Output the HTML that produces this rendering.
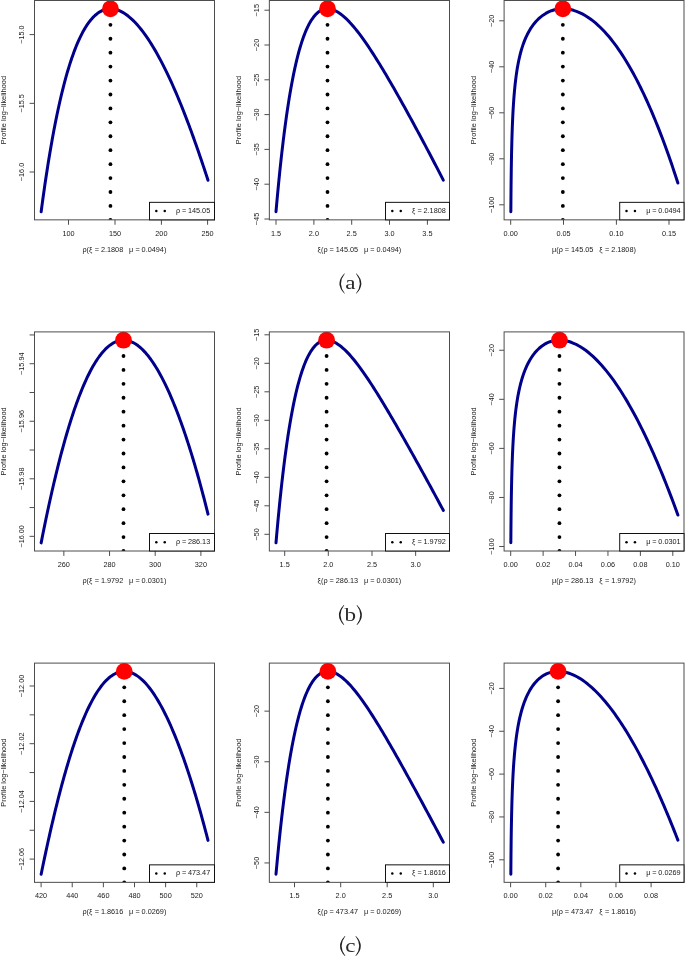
<!DOCTYPE html>
<html><head><meta charset="utf-8"><title>Profile log-likelihood</title>
<style>html,body{margin:0;padding:0;background:#fff}body{width:685px;height:957px;overflow:hidden;font-family:"Liberation Sans",sans-serif}svg{display:block;will-change:transform}</style>
</head><body>
<svg width="685" height="957" viewBox="0 0 685 957" font-family="Liberation Sans, sans-serif" font-size="7.3" fill="#1a1a1a">
<rect width="685" height="957" fill="#fff"/>
<defs>
<clipPath id="c1"><rect x="34.5" y="0.5" width="180" height="219.35"/></clipPath>
<clipPath id="c2"><rect x="269.35" y="0.5" width="180.15" height="219.35"/></clipPath>
<clipPath id="c3"><rect x="504.1" y="0.5" width="179.9" height="219.35"/></clipPath>
<clipPath id="c4"><rect x="34.5" y="331.9" width="180" height="219.1"/></clipPath>
<clipPath id="c5"><rect x="269.35" y="331.9" width="180.15" height="219.1"/></clipPath>
<clipPath id="c6"><rect x="504.1" y="331.9" width="179.9" height="219.1"/></clipPath>
<clipPath id="c7"><rect x="34.5" y="663.1" width="180" height="219.25"/></clipPath>
<clipPath id="c8"><rect x="269.35" y="663.1" width="180.15" height="219.25"/></clipPath>
<clipPath id="c9"><rect x="504.1" y="663.1" width="179.9" height="219.25"/></clipPath>
</defs>
<g>
<polyline points="41.15,211.72 41.55,208.68 41.96,205.63 42.38,202.59 42.79,199.55 43.22,196.50 43.64,193.46 44.08,190.42 44.51,187.38 44.96,184.34 45.40,181.30 45.86,178.26 46.32,175.23 46.78,172.19 47.25,169.16 47.73,166.12 48.21,163.09 48.70,160.06 49.20,157.02 49.70,153.99 50.21,150.96 50.73,147.94 51.25,144.91 51.79,141.89 52.33,138.86 52.88,135.84 53.44,132.82 54.00,129.80 54.58,126.78 55.17,123.77 55.76,120.76 56.37,117.74 56.99,114.74 57.62,111.73 58.26,108.73 58.92,105.72 59.59,102.73 60.27,99.73 60.96,96.74 61.67,93.75 62.40,90.77 63.14,87.79 63.90,84.81 64.68,81.84 65.48,78.87 66.30,75.91 67.14,72.96 68.01,70.01 68.90,67.07 69.81,64.14 70.76,61.22 71.73,58.30 72.74,55.40 73.78,52.51 74.87,49.64 75.99,46.78 77.16,43.94 78.38,41.12 79.65,38.32 80.99,35.56 82.39,32.83 83.87,30.13 85.43,27.49 87.09,24.90 88.85,22.39 90.74,19.97 92.76,17.66 94.95,15.50 97.30,13.53 99.85,11.81 102.58,10.41 105.48,9.40 108.50,8.85 111.56,8.78 114.61,9.18 117.57,9.99 120.41,11.15 123.13,12.58 125.71,14.24 128.18,16.07 130.54,18.04 132.79,20.12 134.96,22.30 137.04,24.56 139.05,26.88 140.99,29.26 142.87,31.69 144.70,34.16 146.47,36.67 148.20,39.21 149.88,41.78 151.53,44.37 153.13,46.99 154.70,49.63 156.24,52.29 157.74,54.97 159.22,57.66 160.67,60.37 162.09,63.09 163.49,65.82 164.87,68.57 166.23,71.33 167.56,74.09 168.87,76.87 170.17,79.65 171.45,82.45 172.71,85.25 173.95,88.06 175.18,90.87 176.39,93.70 177.59,96.52 178.77,99.36 179.94,102.20 181.10,105.04 182.25,107.89 183.38,110.75 184.50,113.61 185.62,116.47 186.72,119.34 187.81,122.21 188.89,125.08 189.96,127.96 191.03,130.84 192.08,133.73 193.13,136.62 194.16,139.51 195.19,142.40 196.22,145.30 197.23,148.20 198.24,151.10 199.24,154.00 200.24,156.91 201.23,159.82 202.21,162.73 203.19,165.64 204.16,168.55 205.13,171.47 206.09,174.38 207.05,177.30 208.00,180.22" fill="none" stroke="#00008b" stroke-width="3" stroke-linecap="round" stroke-linejoin="round"/>
<g clip-path="url(#c1)" fill="#000"><circle cx="110.45" cy="219.85" r="1.9"/><circle cx="110.45" cy="205.92" r="1.9"/><circle cx="110.45" cy="191.99" r="1.9"/><circle cx="110.45" cy="178.06" r="1.9"/><circle cx="110.45" cy="164.13" r="1.9"/><circle cx="110.45" cy="150.2" r="1.9"/><circle cx="110.45" cy="136.27" r="1.9"/><circle cx="110.45" cy="122.34" r="1.9"/><circle cx="110.45" cy="108.41" r="1.9"/><circle cx="110.45" cy="94.48" r="1.9"/><circle cx="110.45" cy="80.55" r="1.9"/><circle cx="110.45" cy="66.62" r="1.9"/><circle cx="110.45" cy="52.69" r="1.9"/><circle cx="110.45" cy="38.76" r="1.9"/><circle cx="110.45" cy="24.83" r="1.9"/></g>
<circle cx="110.45" cy="8.8" r="8.4" fill="#ff0000"/>
<rect x="34.5" y="0.5" width="180" height="219.35" fill="none" stroke="#4d4d4d" stroke-width="1"/>
<path d="M68.5 219.85v4.9M115 219.85v4.9M161.4 219.85v4.9M207.6 219.85v4.9M34.5 34.6h-4.9M34.5 103.35h-4.9M34.5 172h-4.9" stroke="#4d4d4d" stroke-width="1" fill="none"/>
<text x="68.5" y="235.95" text-anchor="middle">100</text>
<text x="115" y="235.95" text-anchor="middle">150</text>
<text x="161.4" y="235.95" text-anchor="middle">200</text>
<text x="207.6" y="235.95" text-anchor="middle">250</text>
<text transform="translate(24.3 34.6) rotate(-90)" text-anchor="middle">−15.0</text>
<text transform="translate(24.3 103.35) rotate(-90)" text-anchor="middle">−15.5</text>
<text transform="translate(24.3 172) rotate(-90)" text-anchor="middle">−16.0</text>
<text transform="translate(6 110.08) rotate(-90)" text-anchor="middle" font-size="7.42">Profile log−likelihood</text>
<text y="251.75"><tspan x="82.48">ρ</tspan><tspan x="86.48">(</tspan><tspan x="88.88">ξ</tspan><tspan x="94.68">=</tspan><tspan x="100.88">2.1808</tspan><tspan x="129">μ</tspan><tspan x="135.4">=</tspan><tspan x="141.6">0.0494</tspan><tspan x="163.92">)</tspan></text>
<rect x="149.5" y="202.35" width="65" height="17.5" fill="#fff" stroke="#111" stroke-width="1"/>
<circle cx="156.3" cy="211.1" r="1.25" fill="#000"/><circle cx="164.75" cy="211.1" r="1.25" fill="#000"/>
<text y="212.75"><tspan x="176">ρ</tspan><tspan x="181.9">=</tspan><tspan x="187.9">145.05</tspan></text>
</g>
<g>
<polyline points="276.00,211.71 276.27,208.65 276.54,205.59 276.81,202.53 277.09,199.47 277.37,196.41 277.65,193.35 277.94,190.30 278.23,187.24 278.53,184.18 278.83,181.12 279.13,178.07 279.44,175.01 279.75,171.95 280.07,168.90 280.39,165.84 280.72,162.79 281.05,159.73 281.39,156.68 281.73,153.63 282.08,150.57 282.44,147.52 282.80,144.47 283.16,141.42 283.54,138.37 283.92,135.32 284.30,132.28 284.70,129.23 285.10,126.18 285.51,123.14 285.93,120.10 286.35,117.05 286.79,114.01 287.23,110.97 287.69,107.93 288.15,104.90 288.63,101.86 289.12,98.83 289.61,95.80 290.12,92.77 290.65,89.74 291.19,86.72 291.74,83.69 292.31,80.68 292.90,77.66 293.50,74.65 294.12,71.64 294.76,68.64 295.43,65.64 296.12,62.64 296.83,59.65 297.57,56.67 298.35,53.70 299.15,50.73 299.99,47.78 300.88,44.84 301.80,41.91 302.78,39.00 303.81,36.10 304.91,33.23 306.08,30.39 307.34,27.59 308.69,24.83 310.16,22.14 311.77,19.52 313.55,17.02 315.54,14.67 317.76,12.56 320.27,10.78 323.05,9.49 326.04,8.83 329.11,8.84 332.11,9.46 334.98,10.56 337.69,12.00 340.25,13.70 342.68,15.57 345.00,17.59 347.23,19.70 349.37,21.90 351.45,24.17 353.46,26.49 355.42,28.85 357.34,31.25 359.21,33.69 361.05,36.15 362.86,38.63 364.64,41.14 366.39,43.66 368.12,46.20 369.82,48.76 371.51,51.32 373.18,53.90 374.83,56.49 376.47,59.09 378.10,61.70 379.71,64.31 381.31,66.94 382.90,69.57 384.48,72.20 386.05,74.84 387.61,77.49 389.16,80.14 390.70,82.79 392.24,85.45 393.77,88.12 395.30,90.78 396.82,93.46 398.33,96.13 399.84,98.81 401.34,101.49 402.83,104.17 404.33,106.85 405.82,109.54 407.30,112.23 408.78,114.92 410.25,117.62 411.73,120.31 413.20,123.01 414.66,125.71 416.12,128.42 417.58,131.12 419.03,133.83 420.49,136.53 421.93,139.24 423.38,141.95 424.82,144.67 426.26,147.38 427.70,150.10 429.13,152.81 430.56,155.53 431.99,158.25 433.41,160.97 434.83,163.70 436.25,166.42 437.67,169.15 439.08,171.88 440.49,174.61 441.90,177.34 443.30,180.07" fill="none" stroke="#00008b" stroke-width="3" stroke-linecap="round" stroke-linejoin="round"/>
<g clip-path="url(#c2)" fill="#000"><circle cx="327.5" cy="219.85" r="1.9"/><circle cx="327.5" cy="205.92" r="1.9"/><circle cx="327.5" cy="191.99" r="1.9"/><circle cx="327.5" cy="178.06" r="1.9"/><circle cx="327.5" cy="164.13" r="1.9"/><circle cx="327.5" cy="150.2" r="1.9"/><circle cx="327.5" cy="136.27" r="1.9"/><circle cx="327.5" cy="122.34" r="1.9"/><circle cx="327.5" cy="108.41" r="1.9"/><circle cx="327.5" cy="94.48" r="1.9"/><circle cx="327.5" cy="80.55" r="1.9"/><circle cx="327.5" cy="66.62" r="1.9"/><circle cx="327.5" cy="52.69" r="1.9"/><circle cx="327.5" cy="38.76" r="1.9"/><circle cx="327.5" cy="24.83" r="1.9"/></g>
<circle cx="327.5" cy="8.8" r="8.4" fill="#ff0000"/>
<rect x="269.35" y="0.5" width="180.15" height="219.35" fill="none" stroke="#4d4d4d" stroke-width="1"/>
<path d="M276 219.85v4.9M313.9 219.85v4.9M351.7 219.85v4.9M389.5 219.85v4.9M427.4 219.85v4.9M269.35 10.2h-4.9M269.35 45h-4.9M269.35 79.8h-4.9M269.35 114.6h-4.9M269.35 149.4h-4.9M269.35 184.2h-4.9M269.35 219h-4.9" stroke="#4d4d4d" stroke-width="1" fill="none"/>
<text x="276" y="235.95" text-anchor="middle">1.5</text>
<text x="313.9" y="235.95" text-anchor="middle">2.0</text>
<text x="351.7" y="235.95" text-anchor="middle">2.5</text>
<text x="389.5" y="235.95" text-anchor="middle">3.0</text>
<text x="427.4" y="235.95" text-anchor="middle">3.5</text>
<text transform="translate(259.15 10.2) rotate(-90)" text-anchor="middle">−15</text>
<text transform="translate(259.15 45) rotate(-90)" text-anchor="middle">−20</text>
<text transform="translate(259.15 79.8) rotate(-90)" text-anchor="middle">−25</text>
<text transform="translate(259.15 114.6) rotate(-90)" text-anchor="middle">−30</text>
<text transform="translate(259.15 149.4) rotate(-90)" text-anchor="middle">−35</text>
<text transform="translate(259.15 184.2) rotate(-90)" text-anchor="middle">−40</text>
<text transform="translate(259.15 219) rotate(-90)" text-anchor="middle">−45</text>
<text transform="translate(240.85 110.08) rotate(-90)" text-anchor="middle" font-size="7.42">Profile log−likelihood</text>
<text y="251.75"><tspan x="317.4">ξ</tspan><tspan x="321">(</tspan><tspan x="323.4">ρ</tspan><tspan x="329.6">=</tspan><tspan x="335.8">145.05</tspan><tspan x="363.92">μ</tspan><tspan x="370.32">=</tspan><tspan x="376.52">0.0494</tspan><tspan x="398.85">)</tspan></text>
<rect x="385.5" y="202.35" width="64" height="17.5" fill="#fff" stroke="#111" stroke-width="1"/>
<circle cx="392.3" cy="211.1" r="1.25" fill="#000"/><circle cx="400.75" cy="211.1" r="1.25" fill="#000"/>
<text y="212.75"><tspan x="412">ξ</tspan><tspan x="417.5">=</tspan><tspan x="423.5">2.1808</tspan></text>
</g>
<g>
<polyline points="510.85,211.71 510.87,208.52 510.89,205.33 510.92,202.14 510.94,198.95 510.97,195.76 511.00,192.56 511.03,189.37 511.06,186.18 511.10,182.99 511.14,179.80 511.18,176.61 511.22,173.42 511.26,170.22 511.31,167.03 511.37,163.84 511.42,160.65 511.48,157.46 511.54,154.27 511.61,151.08 511.69,147.88 511.77,144.69 511.85,141.50 511.94,138.31 512.04,135.12 512.14,131.93 512.25,128.74 512.37,125.55 512.50,122.36 512.64,119.18 512.79,115.99 512.95,112.80 513.13,109.61 513.32,106.43 513.52,103.24 513.74,100.06 513.98,96.87 514.24,93.69 514.52,90.51 514.82,87.34 515.15,84.16 515.51,80.99 515.90,77.82 516.32,74.66 516.78,71.50 517.29,68.35 517.84,65.20 518.44,62.07 519.09,58.95 519.81,55.84 520.60,52.74 521.46,49.67 522.40,46.62 523.43,43.60 524.56,40.61 525.80,37.67 527.15,34.78 528.62,31.95 530.23,29.19 531.98,26.52 533.88,23.96 535.93,21.51 538.15,19.22 540.52,17.08 543.05,15.14 545.74,13.42 548.56,11.93 551.51,10.72 554.56,9.78 557.69,9.14 560.86,8.81 564.05,8.77 567.23,9.02 570.38,9.55 573.48,10.32 576.51,11.32 579.46,12.53 582.33,13.92 585.12,15.47 587.83,17.16 590.45,18.98 593.00,20.90 595.47,22.93 597.86,25.04 600.18,27.22 602.44,29.48 604.64,31.80 606.77,34.17 608.85,36.59 610.88,39.06 612.86,41.56 614.79,44.10 616.67,46.68 618.51,49.29 620.31,51.92 622.08,54.58 623.80,57.27 625.49,59.97 627.15,62.70 628.78,65.45 630.37,68.21 631.94,70.99 633.48,73.79 635.00,76.60 636.48,79.42 637.95,82.26 639.39,85.11 640.81,87.97 642.20,90.84 643.58,93.72 644.94,96.60 646.27,99.50 647.59,102.41 648.89,105.32 650.17,108.25 651.44,111.18 652.69,114.11 653.92,117.06 655.14,120.01 656.35,122.96 657.54,125.93 658.71,128.89 659.88,131.87 661.03,134.84 662.16,137.83 663.29,140.81 664.40,143.80 665.50,146.80 666.59,149.80 667.67,152.80 668.74,155.81 669.79,158.82 670.84,161.84 671.88,164.86 672.90,167.88 673.92,170.91 674.93,173.93 675.93,176.97 676.92,180.00 677.90,183.04" fill="none" stroke="#00008b" stroke-width="3" stroke-linecap="round" stroke-linejoin="round"/>
<g clip-path="url(#c3)" fill="#000"><circle cx="562.85" cy="219.85" r="1.9"/><circle cx="562.85" cy="205.92" r="1.9"/><circle cx="562.85" cy="191.99" r="1.9"/><circle cx="562.85" cy="178.06" r="1.9"/><circle cx="562.85" cy="164.13" r="1.9"/><circle cx="562.85" cy="150.2" r="1.9"/><circle cx="562.85" cy="136.27" r="1.9"/><circle cx="562.85" cy="122.34" r="1.9"/><circle cx="562.85" cy="108.41" r="1.9"/><circle cx="562.85" cy="94.48" r="1.9"/><circle cx="562.85" cy="80.55" r="1.9"/><circle cx="562.85" cy="66.62" r="1.9"/><circle cx="562.85" cy="52.69" r="1.9"/><circle cx="562.85" cy="38.76" r="1.9"/><circle cx="562.85" cy="24.83" r="1.9"/></g>
<circle cx="562.85" cy="8.8" r="8.4" fill="#ff0000"/>
<rect x="504.1" y="0.5" width="179.9" height="219.35" fill="none" stroke="#4d4d4d" stroke-width="1"/>
<path d="M510.7 219.85v4.9M563.5 219.85v4.9M616.4 219.85v4.9M669 219.85v4.9M504.1 20.8h-4.9M504.1 66.8h-4.9M504.1 112.8h-4.9M504.1 158.8h-4.9M504.1 204.8h-4.9" stroke="#4d4d4d" stroke-width="1" fill="none"/>
<text x="510.7" y="235.95" text-anchor="middle">0.00</text>
<text x="563.5" y="235.95" text-anchor="middle">0.05</text>
<text x="616.4" y="235.95" text-anchor="middle">0.10</text>
<text x="669" y="235.95" text-anchor="middle">0.15</text>
<text transform="translate(493.9 20.8) rotate(-90)" text-anchor="middle">−20</text>
<text transform="translate(493.9 66.8) rotate(-90)" text-anchor="middle">−40</text>
<text transform="translate(493.9 112.8) rotate(-90)" text-anchor="middle">−60</text>
<text transform="translate(493.9 158.8) rotate(-90)" text-anchor="middle">−80</text>
<text transform="translate(493.9 204.8) rotate(-90)" text-anchor="middle">−100</text>
<text transform="translate(475.6 110.08) rotate(-90)" text-anchor="middle" font-size="7.42">Profile log−likelihood</text>
<text y="251.75"><tspan x="552.03">μ</tspan><tspan x="556.23">(</tspan><tspan x="558.63">ρ</tspan><tspan x="564.83">=</tspan><tspan x="571.03">145.05</tspan><tspan x="599.15">ξ</tspan><tspan x="604.95">=</tspan><tspan x="611.15">2.1808</tspan><tspan x="633.47">)</tspan></text>
<rect x="619.7" y="202.35" width="64.3" height="17.5" fill="#fff" stroke="#111" stroke-width="1"/>
<circle cx="626.5" cy="211.1" r="1.25" fill="#000"/><circle cx="634.95" cy="211.1" r="1.25" fill="#000"/>
<text y="212.75"><tspan x="646.2">μ</tspan><tspan x="652.3">=</tspan><tspan x="658.3">0.0494</tspan></text>
</g>
<g>
<polyline points="41.15,542.86 41.74,539.85 42.34,536.83 42.94,533.82 43.54,530.81 44.15,527.80 44.77,524.79 45.39,521.78 46.01,518.77 46.64,515.77 47.28,512.76 47.92,509.76 48.57,506.76 49.22,503.75 49.88,500.75 50.55,497.75 51.22,494.76 51.89,491.76 52.58,488.77 53.27,485.77 53.97,482.78 54.67,479.79 55.39,476.81 56.11,473.82 56.84,470.84 57.58,467.85 58.32,464.87 59.08,461.90 59.84,458.92 60.61,455.95 61.40,452.98 62.19,450.01 62.99,447.05 63.81,444.08 64.63,441.13 65.47,438.17 66.32,435.22 67.19,432.27 68.06,429.33 68.95,426.39 69.86,423.45 70.78,420.52 71.72,417.60 72.67,414.68 73.64,411.76 74.64,408.86 75.65,405.95 76.68,403.06 77.73,400.18 78.81,397.30 79.91,394.43 81.04,391.58 82.20,388.73 83.39,385.90 84.61,383.08 85.87,380.28 87.17,377.49 88.51,374.73 89.89,371.99 91.32,369.27 92.81,366.58 94.36,363.93 95.97,361.32 97.66,358.75 99.44,356.25 101.30,353.81 103.28,351.45 105.37,349.21 107.60,347.09 109.98,345.15 112.53,343.43 115.24,342.00 118.12,340.93 121.12,340.30 124.19,340.16 127.23,340.52 130.19,341.34 133.02,342.54 135.68,344.06 138.20,345.82 140.57,347.77 142.81,349.88 144.93,352.09 146.95,354.41 148.88,356.80 150.72,359.26 152.49,361.77 154.19,364.33 155.83,366.93 157.42,369.56 158.96,372.22 160.45,374.90 161.89,377.61 163.30,380.34 164.68,383.09 166.02,385.85 167.32,388.63 168.60,391.42 169.85,394.23 171.08,397.05 172.28,399.87 173.46,402.71 174.62,405.56 175.75,408.41 176.87,411.27 177.97,414.14 179.05,417.02 180.11,419.90 181.15,422.79 182.19,425.68 183.20,428.58 184.20,431.48 185.19,434.39 186.17,437.30 187.13,440.22 188.08,443.14 189.01,446.07 189.94,449.00 190.85,451.93 191.76,454.86 192.65,457.80 193.54,460.74 194.41,463.69 195.27,466.64 196.13,469.59 196.98,472.54 197.81,475.50 198.64,478.45 199.46,481.41 200.28,484.38 201.08,487.34 201.88,490.31 202.67,493.28 203.45,496.25 204.23,499.22 204.99,502.19 205.75,505.17 206.51,508.15 207.26,511.12 208.00,514.11" fill="none" stroke="#00008b" stroke-width="3" stroke-linecap="round" stroke-linejoin="round"/>
<g clip-path="url(#c4)" fill="#000"><circle cx="123.5" cy="551" r="1.9"/><circle cx="123.5" cy="537.07" r="1.9"/><circle cx="123.5" cy="523.14" r="1.9"/><circle cx="123.5" cy="509.21" r="1.9"/><circle cx="123.5" cy="495.28" r="1.9"/><circle cx="123.5" cy="481.35" r="1.9"/><circle cx="123.5" cy="467.42" r="1.9"/><circle cx="123.5" cy="453.49" r="1.9"/><circle cx="123.5" cy="439.56" r="1.9"/><circle cx="123.5" cy="425.63" r="1.9"/><circle cx="123.5" cy="411.7" r="1.9"/><circle cx="123.5" cy="397.77" r="1.9"/><circle cx="123.5" cy="383.84" r="1.9"/><circle cx="123.5" cy="369.91" r="1.9"/><circle cx="123.5" cy="355.98" r="1.9"/></g>
<circle cx="123.5" cy="340.2" r="8.4" fill="#ff0000"/>
<rect x="34.5" y="331.9" width="180" height="219.1" fill="none" stroke="#4d4d4d" stroke-width="1"/>
<path d="M63.85 551v4.9M109.55 551v4.9M155.2 551v4.9M200.9 551v4.9M34.5 334.95h-4.9M34.5 363.72h-4.9M34.5 392.49h-4.9M34.5 421.26h-4.9M34.5 450.03h-4.9M34.5 478.8h-4.9M34.5 507.57h-4.9M34.5 536.34h-4.9" stroke="#4d4d4d" stroke-width="1" fill="none"/>
<text x="63.85" y="566.85" text-anchor="middle">260</text>
<text x="109.55" y="566.85" text-anchor="middle">280</text>
<text x="155.2" y="566.85" text-anchor="middle">300</text>
<text x="200.9" y="566.85" text-anchor="middle">320</text>
<text transform="translate(24.3 363.72) rotate(-90)" text-anchor="middle">−15.94</text>
<text transform="translate(24.3 421.26) rotate(-90)" text-anchor="middle">−15.96</text>
<text transform="translate(24.3 478.8) rotate(-90)" text-anchor="middle">−15.98</text>
<text transform="translate(24.3 536.34) rotate(-90)" text-anchor="middle">−16.00</text>
<text transform="translate(6 441.35) rotate(-90)" text-anchor="middle" font-size="7.42">Profile log−likelihood</text>
<text y="582.85"><tspan x="82.48">ρ</tspan><tspan x="86.48">(</tspan><tspan x="88.88">ξ</tspan><tspan x="94.68">=</tspan><tspan x="100.88">1.9792</tspan><tspan x="129">μ</tspan><tspan x="135.4">=</tspan><tspan x="141.6">0.0301</tspan><tspan x="163.92">)</tspan></text>
<rect x="149.5" y="533.5" width="65" height="17.5" fill="#fff" stroke="#111" stroke-width="1"/>
<circle cx="156.3" cy="542.25" r="1.25" fill="#000"/><circle cx="164.75" cy="542.25" r="1.25" fill="#000"/>
<text y="543.9"><tspan x="176">ρ</tspan><tspan x="181.9">=</tspan><tspan x="187.9">286.13</tspan></text>
</g>
<g>
<polyline points="276.00,542.84 276.26,539.79 276.53,536.74 276.80,533.69 277.07,530.64 277.34,527.59 277.62,524.54 277.90,521.49 278.19,518.44 278.48,515.39 278.78,512.34 279.07,509.29 279.38,506.24 279.68,503.20 280.00,500.15 280.31,497.10 280.63,494.06 280.96,491.01 281.29,487.97 281.63,484.92 281.97,481.88 282.32,478.84 282.67,475.79 283.03,472.75 283.40,469.71 283.77,466.67 284.15,463.63 284.53,460.59 284.93,457.56 285.33,454.52 285.74,451.48 286.16,448.45 286.58,445.42 287.02,442.38 287.46,439.35 287.92,436.33 288.38,433.30 288.86,430.27 289.35,427.25 289.85,424.23 290.36,421.21 290.89,418.19 291.43,415.18 291.99,412.16 292.56,409.16 293.15,406.15 293.76,403.15 294.39,400.15 295.04,397.16 295.71,394.17 296.41,391.19 297.14,388.21 297.89,385.24 298.68,382.28 299.50,379.33 300.37,376.39 301.27,373.47 302.23,370.56 303.24,367.67 304.31,364.80 305.46,361.96 306.68,359.15 308.01,356.39 309.45,353.69 311.03,351.06 312.77,348.55 314.72,346.18 316.91,344.04 319.38,342.24 322.14,340.92 325.11,340.23 328.17,340.24 331.16,340.87 334.02,341.97 336.71,343.43 339.25,345.14 341.67,347.02 343.97,349.04 346.18,351.16 348.31,353.36 350.37,355.63 352.37,357.95 354.32,360.31 356.22,362.71 358.09,365.14 359.92,367.59 361.72,370.07 363.49,372.57 365.24,375.08 366.96,377.61 368.67,380.16 370.36,382.72 372.03,385.28 373.68,387.86 375.32,390.45 376.95,393.04 378.57,395.64 380.17,398.25 381.77,400.86 383.36,403.48 384.94,406.11 386.51,408.74 388.07,411.37 389.63,414.01 391.18,416.65 392.73,419.29 394.27,421.94 395.80,424.59 397.33,427.24 398.86,429.90 400.38,432.56 401.90,435.22 403.41,437.88 404.92,440.55 406.43,443.21 407.93,445.88 409.43,448.55 410.93,451.22 412.43,453.89 413.92,456.57 415.41,459.24 416.90,461.92 418.38,464.60 419.87,467.28 421.35,469.96 422.83,472.64 424.30,475.33 425.78,478.01 427.25,480.70 428.72,483.38 430.19,486.07 431.65,488.76 433.12,491.45 434.58,494.14 436.04,496.84 437.49,499.53 438.95,502.23 440.40,504.92 441.85,507.62 443.30,510.32" fill="none" stroke="#00008b" stroke-width="3" stroke-linecap="round" stroke-linejoin="round"/>
<g clip-path="url(#c5)" fill="#000"><circle cx="326.6" cy="551" r="1.9"/><circle cx="326.6" cy="537.07" r="1.9"/><circle cx="326.6" cy="523.14" r="1.9"/><circle cx="326.6" cy="509.21" r="1.9"/><circle cx="326.6" cy="495.28" r="1.9"/><circle cx="326.6" cy="481.35" r="1.9"/><circle cx="326.6" cy="467.42" r="1.9"/><circle cx="326.6" cy="453.49" r="1.9"/><circle cx="326.6" cy="439.56" r="1.9"/><circle cx="326.6" cy="425.63" r="1.9"/><circle cx="326.6" cy="411.7" r="1.9"/><circle cx="326.6" cy="397.77" r="1.9"/><circle cx="326.6" cy="383.84" r="1.9"/><circle cx="326.6" cy="369.91" r="1.9"/><circle cx="326.6" cy="355.98" r="1.9"/></g>
<circle cx="326.6" cy="340.2" r="8.4" fill="#ff0000"/>
<rect x="269.35" y="331.9" width="180.15" height="219.1" fill="none" stroke="#4d4d4d" stroke-width="1"/>
<path d="M284.7 551v4.9M328.3 551v4.9M372 551v4.9M415.65 551v4.9M269.35 334.8h-4.9M269.35 363.3h-4.9M269.35 391.8h-4.9M269.35 420.3h-4.9M269.35 448.8h-4.9M269.35 477.3h-4.9M269.35 505.8h-4.9M269.35 534.3h-4.9" stroke="#4d4d4d" stroke-width="1" fill="none"/>
<text x="284.7" y="566.85" text-anchor="middle">1.5</text>
<text x="328.3" y="566.85" text-anchor="middle">2.0</text>
<text x="372" y="566.85" text-anchor="middle">2.5</text>
<text x="415.65" y="566.85" text-anchor="middle">3.0</text>
<text transform="translate(259.15 334.8) rotate(-90)" text-anchor="middle">−15</text>
<text transform="translate(259.15 363.3) rotate(-90)" text-anchor="middle">−20</text>
<text transform="translate(259.15 391.8) rotate(-90)" text-anchor="middle">−25</text>
<text transform="translate(259.15 420.3) rotate(-90)" text-anchor="middle">−30</text>
<text transform="translate(259.15 448.8) rotate(-90)" text-anchor="middle">−35</text>
<text transform="translate(259.15 477.3) rotate(-90)" text-anchor="middle">−40</text>
<text transform="translate(259.15 505.8) rotate(-90)" text-anchor="middle">−45</text>
<text transform="translate(259.15 534.3) rotate(-90)" text-anchor="middle">−50</text>
<text transform="translate(240.85 441.35) rotate(-90)" text-anchor="middle" font-size="7.42">Profile log−likelihood</text>
<text y="582.85"><tspan x="317.4">ξ</tspan><tspan x="321">(</tspan><tspan x="323.4">ρ</tspan><tspan x="329.6">=</tspan><tspan x="335.8">286.13</tspan><tspan x="363.92">μ</tspan><tspan x="370.32">=</tspan><tspan x="376.52">0.0301</tspan><tspan x="398.85">)</tspan></text>
<rect x="385.5" y="533.5" width="64" height="17.5" fill="#fff" stroke="#111" stroke-width="1"/>
<circle cx="392.3" cy="542.25" r="1.25" fill="#000"/><circle cx="400.75" cy="542.25" r="1.25" fill="#000"/>
<text y="543.9"><tspan x="412">ξ</tspan><tspan x="417.5">=</tspan><tspan x="423.5">1.9792</tspan></text>
</g>
<g>
<polyline points="510.84,542.84 510.86,539.66 510.88,536.48 510.91,533.30 510.93,530.12 510.96,526.94 510.99,523.76 511.02,520.58 511.06,517.40 511.09,514.22 511.13,511.04 511.17,507.86 511.21,504.68 511.26,501.50 511.31,498.32 511.36,495.14 511.42,491.96 511.48,488.78 511.54,485.60 511.61,482.42 511.69,479.24 511.77,476.06 511.85,472.88 511.94,469.71 512.04,466.53 512.15,463.35 512.26,460.17 512.38,456.99 512.51,453.81 512.66,450.64 512.81,447.46 512.97,444.28 513.15,441.11 513.34,437.93 513.54,434.76 513.76,431.59 514.00,428.42 514.26,425.25 514.54,422.08 514.84,418.91 515.16,415.75 515.52,412.59 515.90,409.43 516.32,406.28 516.77,403.13 517.26,399.99 517.79,396.85 518.37,393.73 519.00,390.61 519.69,387.50 520.44,384.41 521.25,381.34 522.14,378.29 523.11,375.26 524.17,372.26 525.32,369.30 526.58,366.38 527.96,363.51 529.46,360.70 531.10,357.98 532.88,355.35 534.82,352.83 536.93,350.45 539.21,348.23 541.67,346.22 544.30,344.44 547.10,342.93 550.04,341.72 553.10,340.85 556.23,340.33 559.41,340.15 562.58,340.31 565.73,340.78 568.82,341.54 571.83,342.54 574.77,343.77 577.62,345.18 580.38,346.75 583.06,348.47 585.65,350.31 588.17,352.25 590.61,354.29 592.98,356.40 595.29,358.59 597.53,360.85 599.72,363.16 601.85,365.52 603.93,367.92 605.97,370.37 607.95,372.85 609.90,375.37 611.80,377.91 613.67,380.49 615.50,383.09 617.29,385.72 619.05,388.36 620.78,391.03 622.49,393.72 624.16,396.42 625.81,399.14 627.43,401.88 629.02,404.63 630.59,407.39 632.15,410.17 633.67,412.96 635.18,415.76 636.67,418.57 638.14,421.39 639.59,424.22 641.02,427.06 642.43,429.91 643.83,432.77 645.21,435.63 646.58,438.50 647.93,441.38 649.27,444.27 650.59,447.16 651.90,450.06 653.19,452.96 654.48,455.87 655.75,458.79 657.01,461.71 658.25,464.64 659.49,467.57 660.71,470.50 661.92,473.44 663.13,476.39 664.32,479.34 665.50,482.29 666.67,485.24 667.83,488.20 668.99,491.17 670.13,494.14 671.27,497.11 672.39,500.08 673.51,503.06 674.62,506.04 675.72,509.02 676.81,512.01 677.90,515.00" fill="none" stroke="#00008b" stroke-width="3" stroke-linecap="round" stroke-linejoin="round"/>
<g clip-path="url(#c6)" fill="#000"><circle cx="559.45" cy="551" r="1.9"/><circle cx="559.45" cy="537.07" r="1.9"/><circle cx="559.45" cy="523.14" r="1.9"/><circle cx="559.45" cy="509.21" r="1.9"/><circle cx="559.45" cy="495.28" r="1.9"/><circle cx="559.45" cy="481.35" r="1.9"/><circle cx="559.45" cy="467.42" r="1.9"/><circle cx="559.45" cy="453.49" r="1.9"/><circle cx="559.45" cy="439.56" r="1.9"/><circle cx="559.45" cy="425.63" r="1.9"/><circle cx="559.45" cy="411.7" r="1.9"/><circle cx="559.45" cy="397.77" r="1.9"/><circle cx="559.45" cy="383.84" r="1.9"/><circle cx="559.45" cy="369.91" r="1.9"/><circle cx="559.45" cy="355.98" r="1.9"/></g>
<circle cx="559.45" cy="340.2" r="8.4" fill="#ff0000"/>
<rect x="504.1" y="331.9" width="179.9" height="219.1" fill="none" stroke="#4d4d4d" stroke-width="1"/>
<path d="M510.7 551v4.9M543.12 551v4.9M575.54 551v4.9M607.96 551v4.9M640.38 551v4.9M672.8 551v4.9M504.1 350.25h-4.9M504.1 399.32h-4.9M504.1 448.39h-4.9M504.1 497.46h-4.9M504.1 546.53h-4.9" stroke="#4d4d4d" stroke-width="1" fill="none"/>
<text x="510.7" y="566.85" text-anchor="middle">0.00</text>
<text x="543.12" y="566.85" text-anchor="middle">0.02</text>
<text x="575.54" y="566.85" text-anchor="middle">0.04</text>
<text x="607.96" y="566.85" text-anchor="middle">0.06</text>
<text x="640.38" y="566.85" text-anchor="middle">0.08</text>
<text x="672.8" y="566.85" text-anchor="middle">0.10</text>
<text transform="translate(493.9 350.25) rotate(-90)" text-anchor="middle">−20</text>
<text transform="translate(493.9 399.32) rotate(-90)" text-anchor="middle">−40</text>
<text transform="translate(493.9 448.39) rotate(-90)" text-anchor="middle">−60</text>
<text transform="translate(493.9 497.46) rotate(-90)" text-anchor="middle">−80</text>
<text transform="translate(493.9 546.53) rotate(-90)" text-anchor="middle">−100</text>
<text transform="translate(475.6 441.35) rotate(-90)" text-anchor="middle" font-size="7.42">Profile log−likelihood</text>
<text y="582.85"><tspan x="552.03">μ</tspan><tspan x="556.23">(</tspan><tspan x="558.63">ρ</tspan><tspan x="564.83">=</tspan><tspan x="571.03">286.13</tspan><tspan x="599.15">ξ</tspan><tspan x="604.95">=</tspan><tspan x="611.15">1.9792</tspan><tspan x="633.47">)</tspan></text>
<rect x="619.7" y="533.5" width="64.3" height="17.5" fill="#fff" stroke="#111" stroke-width="1"/>
<circle cx="626.5" cy="542.25" r="1.25" fill="#000"/><circle cx="634.95" cy="542.25" r="1.25" fill="#000"/>
<text y="543.9"><tspan x="646.2">μ</tspan><tspan x="652.3">=</tspan><tspan x="658.3">0.0301</tspan></text>
</g>
<g>
<polyline points="41.15,874.21 41.76,871.24 42.37,868.26 42.99,865.29 43.61,862.31 44.23,859.34 44.86,856.37 45.50,853.40 46.14,850.43 46.78,847.46 47.43,844.49 48.08,841.53 48.74,838.56 49.41,835.60 50.07,832.63 50.75,829.67 51.43,826.71 52.12,823.75 52.81,820.79 53.51,817.84 54.22,814.88 54.93,811.93 55.65,808.98 56.38,806.03 57.11,803.08 57.85,800.14 58.60,797.19 59.36,794.25 60.12,791.31 60.90,788.37 61.68,785.44 62.48,782.51 63.28,779.58 64.09,776.65 64.92,773.73 65.75,770.81 66.60,767.89 67.46,764.98 68.33,762.07 69.21,759.16 70.11,756.26 71.02,753.36 71.95,750.47 72.89,747.58 73.85,744.70 74.83,741.82 75.82,738.95 76.84,736.09 77.87,733.23 78.93,730.38 80.01,727.54 81.11,724.71 82.24,721.89 83.40,719.09 84.59,716.29 85.81,713.51 87.07,710.74 88.36,708.00 89.70,705.27 91.08,702.56 92.51,699.88 93.99,697.23 95.53,694.61 97.14,692.04 98.83,689.51 100.59,687.04 102.45,684.64 104.42,682.32 106.50,680.11 108.72,678.04 111.09,676.14 113.62,674.46 116.32,673.07 119.18,672.05 122.16,671.47 125.19,671.38 128.20,671.77 131.12,672.62 133.90,673.83 136.52,675.36 139.00,677.11 141.34,679.05 143.55,681.14 145.64,683.34 147.63,685.63 149.54,688.00 151.36,690.43 153.11,692.91 154.80,695.44 156.42,698.00 158.00,700.60 159.52,703.23 161.00,705.88 162.44,708.56 163.84,711.25 165.21,713.96 166.54,716.69 167.84,719.44 169.12,722.19 170.37,724.96 171.59,727.74 172.79,730.54 173.97,733.34 175.12,736.15 176.26,738.96 177.38,741.79 178.48,744.62 179.56,747.46 180.62,750.30 181.67,753.15 182.71,756.01 183.73,758.87 184.73,761.74 185.72,764.61 186.70,767.48 187.67,770.36 188.63,773.25 189.57,776.14 190.50,779.03 191.42,781.92 192.33,784.82 193.23,787.72 194.13,790.62 195.01,793.53 195.88,796.44 196.74,799.35 197.60,802.27 198.44,805.19 199.28,808.11 200.11,811.03 200.93,813.95 201.75,816.88 202.55,819.81 203.35,822.74 204.14,825.67 204.93,828.61 205.71,831.54 206.48,834.48 207.24,837.42 208.00,840.36" fill="none" stroke="#00008b" stroke-width="3" stroke-linecap="round" stroke-linejoin="round"/>
<g clip-path="url(#c7)" fill="#000"><circle cx="124.25" cy="882.35" r="1.9"/><circle cx="124.25" cy="868.42" r="1.9"/><circle cx="124.25" cy="854.49" r="1.9"/><circle cx="124.25" cy="840.56" r="1.9"/><circle cx="124.25" cy="826.63" r="1.9"/><circle cx="124.25" cy="812.7" r="1.9"/><circle cx="124.25" cy="798.77" r="1.9"/><circle cx="124.25" cy="784.84" r="1.9"/><circle cx="124.25" cy="770.91" r="1.9"/><circle cx="124.25" cy="756.98" r="1.9"/><circle cx="124.25" cy="743.05" r="1.9"/><circle cx="124.25" cy="729.12" r="1.9"/><circle cx="124.25" cy="715.19" r="1.9"/><circle cx="124.25" cy="701.26" r="1.9"/><circle cx="124.25" cy="687.33" r="1.9"/></g>
<circle cx="124.25" cy="671.4" r="8.4" fill="#ff0000"/>
<rect x="34.5" y="663.1" width="180" height="219.25" fill="none" stroke="#4d4d4d" stroke-width="1"/>
<path d="M41.1 882.35v4.9M72.23 882.35v4.9M103.36 882.35v4.9M134.49 882.35v4.9M165.62 882.35v4.9M196.75 882.35v4.9M34.5 686h-4.9M34.5 714.85h-4.9M34.5 743.7h-4.9M34.5 772.55h-4.9M34.5 801.4h-4.9M34.5 830.25h-4.9M34.5 859.1h-4.9" stroke="#4d4d4d" stroke-width="1" fill="none"/>
<text x="41.1" y="897.55" text-anchor="middle">420</text>
<text x="72.23" y="897.55" text-anchor="middle">440</text>
<text x="103.36" y="897.55" text-anchor="middle">460</text>
<text x="134.49" y="897.55" text-anchor="middle">480</text>
<text x="165.62" y="897.55" text-anchor="middle">500</text>
<text x="196.75" y="897.55" text-anchor="middle">520</text>
<text transform="translate(24.3 686) rotate(-90)" text-anchor="middle">−12.00</text>
<text transform="translate(24.3 743.7) rotate(-90)" text-anchor="middle">−12.02</text>
<text transform="translate(24.3 801.4) rotate(-90)" text-anchor="middle">−12.04</text>
<text transform="translate(24.3 859.1) rotate(-90)" text-anchor="middle">−12.06</text>
<text transform="translate(6 772.62) rotate(-90)" text-anchor="middle" font-size="7.42">Profile log−likelihood</text>
<text y="913.55"><tspan x="82.48">ρ</tspan><tspan x="86.48">(</tspan><tspan x="88.88">ξ</tspan><tspan x="94.68">=</tspan><tspan x="100.88">1.8616</tspan><tspan x="129">μ</tspan><tspan x="135.4">=</tspan><tspan x="141.6">0.0269</tspan><tspan x="163.92">)</tspan></text>
<rect x="149.5" y="864.85" width="65" height="17.5" fill="#fff" stroke="#111" stroke-width="1"/>
<circle cx="156.3" cy="873.6" r="1.25" fill="#000"/><circle cx="164.75" cy="873.6" r="1.25" fill="#000"/>
<text y="875.25"><tspan x="176">ρ</tspan><tspan x="181.9">=</tspan><tspan x="187.9">473.47</tspan></text>
</g>
<g>
<polyline points="276.00,874.20 276.27,871.15 276.55,868.09 276.83,865.04 277.11,861.99 277.40,858.94 277.69,855.88 277.99,852.83 278.28,849.78 278.59,846.73 278.89,843.68 279.21,840.63 279.52,837.58 279.84,834.53 280.16,831.48 280.49,828.43 280.83,825.39 281.17,822.34 281.51,819.29 281.86,816.25 282.22,813.20 282.58,810.16 282.95,807.11 283.32,804.07 283.70,801.03 284.09,797.99 284.48,794.95 284.88,791.91 285.29,788.87 285.70,785.83 286.13,782.79 286.56,779.76 287.00,776.72 287.45,773.69 287.91,770.66 288.39,767.63 288.87,764.60 289.36,761.58 289.86,758.55 290.38,755.53 290.91,752.51 291.46,749.49 292.01,746.48 292.59,743.47 293.18,740.46 293.79,737.46 294.42,734.45 295.06,731.46 295.73,728.47 296.42,725.48 297.14,722.50 297.89,719.52 298.66,716.56 299.47,713.60 300.31,710.65 301.20,707.72 302.12,704.79 303.10,701.89 304.13,699.00 305.22,696.14 306.39,693.30 307.63,690.50 308.98,687.74 310.43,685.05 312.02,682.43 313.78,679.91 315.73,677.55 317.92,675.40 320.38,673.58 323.12,672.22 326.09,671.47 329.15,671.40 332.15,671.97 335.03,673.03 337.74,674.45 340.30,676.13 342.73,678.00 345.05,680.01 347.26,682.13 349.39,684.34 351.45,686.61 353.45,688.93 355.40,691.30 357.30,693.71 359.15,696.15 360.98,698.61 362.76,701.10 364.52,703.61 366.26,706.14 367.97,708.68 369.66,711.24 371.33,713.81 372.98,716.40 374.62,718.99 376.24,721.59 377.85,724.20 379.45,726.82 381.03,729.44 382.61,732.07 384.18,734.71 385.73,737.35 387.28,739.99 388.83,742.64 390.36,745.30 391.89,747.95 393.41,750.61 394.93,753.28 396.44,755.95 397.95,758.61 399.45,761.29 400.95,763.96 402.44,766.64 403.94,769.32 405.42,772.00 406.91,774.68 408.39,777.36 409.87,780.05 411.34,782.74 412.82,785.43 414.29,788.12 415.76,790.81 417.22,793.50 418.69,796.19 420.15,798.89 421.61,801.58 423.07,804.28 424.53,806.98 425.98,809.68 427.43,812.38 428.88,815.08 430.33,817.78 431.78,820.48 433.23,823.19 434.67,825.89 436.11,828.60 437.55,831.30 438.99,834.01 440.43,836.72 441.87,839.43 443.30,842.14" fill="none" stroke="#00008b" stroke-width="3" stroke-linecap="round" stroke-linejoin="round"/>
<g clip-path="url(#c8)" fill="#000"><circle cx="327.9" cy="882.35" r="1.9"/><circle cx="327.9" cy="868.42" r="1.9"/><circle cx="327.9" cy="854.49" r="1.9"/><circle cx="327.9" cy="840.56" r="1.9"/><circle cx="327.9" cy="826.63" r="1.9"/><circle cx="327.9" cy="812.7" r="1.9"/><circle cx="327.9" cy="798.77" r="1.9"/><circle cx="327.9" cy="784.84" r="1.9"/><circle cx="327.9" cy="770.91" r="1.9"/><circle cx="327.9" cy="756.98" r="1.9"/><circle cx="327.9" cy="743.05" r="1.9"/><circle cx="327.9" cy="729.12" r="1.9"/><circle cx="327.9" cy="715.19" r="1.9"/><circle cx="327.9" cy="701.26" r="1.9"/><circle cx="327.9" cy="687.33" r="1.9"/></g>
<circle cx="327.9" cy="671.4" r="8.4" fill="#ff0000"/>
<rect x="269.35" y="663.1" width="180.15" height="219.25" fill="none" stroke="#4d4d4d" stroke-width="1"/>
<path d="M294.5 882.35v4.9M340.7 882.35v4.9M387.2 882.35v4.9M433.3 882.35v4.9M269.35 711.15h-4.9M269.35 761.75h-4.9M269.35 812.35h-4.9M269.35 862.95h-4.9" stroke="#4d4d4d" stroke-width="1" fill="none"/>
<text x="294.5" y="897.55" text-anchor="middle">1.5</text>
<text x="340.7" y="897.55" text-anchor="middle">2.0</text>
<text x="387.2" y="897.55" text-anchor="middle">2.5</text>
<text x="433.3" y="897.55" text-anchor="middle">3.0</text>
<text transform="translate(259.15 711.15) rotate(-90)" text-anchor="middle">−20</text>
<text transform="translate(259.15 761.75) rotate(-90)" text-anchor="middle">−30</text>
<text transform="translate(259.15 812.35) rotate(-90)" text-anchor="middle">−40</text>
<text transform="translate(259.15 862.95) rotate(-90)" text-anchor="middle">−50</text>
<text transform="translate(240.85 772.62) rotate(-90)" text-anchor="middle" font-size="7.42">Profile log−likelihood</text>
<text y="913.55"><tspan x="317.4">ξ</tspan><tspan x="321">(</tspan><tspan x="323.4">ρ</tspan><tspan x="329.6">=</tspan><tspan x="335.8">473.47</tspan><tspan x="363.92">μ</tspan><tspan x="370.32">=</tspan><tspan x="376.52">0.0269</tspan><tspan x="398.85">)</tspan></text>
<rect x="385.5" y="864.85" width="64" height="17.5" fill="#fff" stroke="#111" stroke-width="1"/>
<circle cx="392.3" cy="873.6" r="1.25" fill="#000"/><circle cx="400.75" cy="873.6" r="1.25" fill="#000"/>
<text y="875.25"><tspan x="412">ξ</tspan><tspan x="417.5">=</tspan><tspan x="423.5">1.8616</tspan></text>
</g>
<g>
<polyline points="510.84,874.21 510.86,871.07 510.88,867.93 510.91,864.79 510.93,861.64 510.96,858.50 510.99,855.36 511.02,852.22 511.06,849.08 511.09,845.93 511.13,842.79 511.17,839.65 511.21,836.51 511.26,833.37 511.31,830.22 511.36,827.08 511.42,823.94 511.48,820.80 511.54,817.66 511.61,814.52 511.68,811.37 511.76,808.23 511.84,805.09 511.93,801.95 512.03,798.81 512.13,795.67 512.24,792.53 512.36,789.39 512.49,786.25 512.63,783.11 512.77,779.97 512.93,776.83 513.10,773.69 513.28,770.56 513.47,767.42 513.68,764.29 513.91,761.15 514.15,758.02 514.41,754.89 514.69,751.76 515.00,748.63 515.33,745.51 515.68,742.38 516.07,739.26 516.48,736.15 516.93,733.04 517.42,729.94 517.95,726.84 518.52,723.75 519.14,720.67 519.81,717.60 520.55,714.54 521.34,711.50 522.21,708.48 523.16,705.49 524.19,702.52 525.32,699.59 526.55,696.70 527.90,693.86 529.37,691.08 530.97,688.38 532.73,685.78 534.65,683.29 536.74,680.94 539.01,678.77 541.47,676.82 544.10,675.11 546.90,673.68 549.85,672.59 552.89,671.83 556.01,671.43 559.15,671.37 562.28,671.64 565.37,672.20 568.40,673.03 571.36,674.09 574.24,675.35 577.03,676.78 579.75,678.36 582.39,680.07 584.95,681.89 587.44,683.81 589.86,685.81 592.21,687.89 594.51,690.04 596.75,692.24 598.93,694.50 601.06,696.81 603.15,699.16 605.19,701.55 607.19,703.97 609.15,706.43 611.07,708.91 612.95,711.43 614.80,713.97 616.62,716.53 618.41,719.11 620.17,721.72 621.90,724.34 623.60,726.98 625.28,729.64 626.93,732.31 628.56,735.00 630.17,737.70 631.75,740.41 633.32,743.14 634.86,745.88 636.38,748.62 637.89,751.38 639.38,754.15 640.85,756.93 642.30,759.71 643.74,762.51 645.16,765.31 646.57,768.12 647.96,770.93 649.34,773.76 650.71,776.59 652.06,779.42 653.40,782.27 654.72,785.12 656.04,787.97 657.34,790.83 658.63,793.70 659.90,796.57 661.17,799.44 662.43,802.32 663.67,805.21 664.91,808.10 666.14,810.99 667.35,813.89 668.56,816.79 669.76,819.69 670.95,822.60 672.13,825.52 673.30,828.43 674.46,831.35 675.62,834.27 676.76,837.20 677.90,840.13" fill="none" stroke="#00008b" stroke-width="3" stroke-linecap="round" stroke-linejoin="round"/>
<g clip-path="url(#c9)" fill="#000"><circle cx="558.1" cy="882.35" r="1.9"/><circle cx="558.1" cy="868.42" r="1.9"/><circle cx="558.1" cy="854.49" r="1.9"/><circle cx="558.1" cy="840.56" r="1.9"/><circle cx="558.1" cy="826.63" r="1.9"/><circle cx="558.1" cy="812.7" r="1.9"/><circle cx="558.1" cy="798.77" r="1.9"/><circle cx="558.1" cy="784.84" r="1.9"/><circle cx="558.1" cy="770.91" r="1.9"/><circle cx="558.1" cy="756.98" r="1.9"/><circle cx="558.1" cy="743.05" r="1.9"/><circle cx="558.1" cy="729.12" r="1.9"/><circle cx="558.1" cy="715.19" r="1.9"/><circle cx="558.1" cy="701.26" r="1.9"/><circle cx="558.1" cy="687.33" r="1.9"/></g>
<circle cx="558.1" cy="671.4" r="8.4" fill="#ff0000"/>
<rect x="504.1" y="663.1" width="179.9" height="219.25" fill="none" stroke="#4d4d4d" stroke-width="1"/>
<path d="M510.6 882.35v4.9M545.72 882.35v4.9M580.84 882.35v4.9M615.96 882.35v4.9M651.08 882.35v4.9M504.1 688.4h-4.9M504.1 731.25h-4.9M504.1 774.1h-4.9M504.1 816.95h-4.9M504.1 859.8h-4.9" stroke="#4d4d4d" stroke-width="1" fill="none"/>
<text x="510.6" y="897.55" text-anchor="middle">0.00</text>
<text x="545.72" y="897.55" text-anchor="middle">0.02</text>
<text x="580.84" y="897.55" text-anchor="middle">0.04</text>
<text x="615.96" y="897.55" text-anchor="middle">0.06</text>
<text x="651.08" y="897.55" text-anchor="middle">0.08</text>
<text transform="translate(493.9 688.4) rotate(-90)" text-anchor="middle">−20</text>
<text transform="translate(493.9 731.25) rotate(-90)" text-anchor="middle">−40</text>
<text transform="translate(493.9 774.1) rotate(-90)" text-anchor="middle">−60</text>
<text transform="translate(493.9 816.95) rotate(-90)" text-anchor="middle">−80</text>
<text transform="translate(493.9 859.8) rotate(-90)" text-anchor="middle">−100</text>
<text transform="translate(475.6 772.62) rotate(-90)" text-anchor="middle" font-size="7.42">Profile log−likelihood</text>
<text y="913.55"><tspan x="552.03">μ</tspan><tspan x="556.23">(</tspan><tspan x="558.63">ρ</tspan><tspan x="564.83">=</tspan><tspan x="571.03">473.47</tspan><tspan x="599.15">ξ</tspan><tspan x="604.95">=</tspan><tspan x="611.15">1.8616</tspan><tspan x="633.47">)</tspan></text>
<rect x="619.7" y="864.85" width="64.3" height="17.5" fill="#fff" stroke="#111" stroke-width="1"/>
<circle cx="626.5" cy="873.6" r="1.25" fill="#000"/><circle cx="634.95" cy="873.6" r="1.25" fill="#000"/>
<text y="875.25"><tspan x="646.2">μ</tspan><tspan x="652.3">=</tspan><tspan x="658.3">0.0269</tspan></text>
</g>
<path d="M344.32 273.5Q334.62 283.55 344.32 293.6L344.87 293.6Q337.22 283.55 344.87 273.5ZM356.5 273.5Q366.18 283.55 356.5 293.6L355.95 293.6Q363.58 283.55 355.95 273.5Z" fill="#222"/>
<text transform="translate(350.4 289) scale(1.27 1)" text-anchor="middle" font-family="Liberation Serif, serif" font-size="18.2" fill="#2a2a2a">a</text>
<path d="M343.77 605Q334.07 615.05 343.77 625.1L344.32 625.1Q336.67 615.05 344.32 605ZM357.05 605Q366.73 615.05 357.05 625.1L356.5 625.1Q364.13 615.05 356.5 605Z" fill="#222"/>
<text transform="translate(350.4 620.5) scale(1.27 1)" text-anchor="middle" font-family="Liberation Serif, serif" font-size="18.2" fill="#2a2a2a">b</text>
<path d="M344.87 936Q335.17 946.05 344.87 956.1L345.42 956.1Q337.77 946.05 345.42 936ZM355.95 936Q365.63 946.05 355.95 956.1L355.4 956.1Q363.03 946.05 355.4 936Z" fill="#222"/>
<text transform="translate(350.4 951.5) scale(1.27 1)" text-anchor="middle" font-family="Liberation Serif, serif" font-size="18.2" fill="#2a2a2a">c</text>
</svg>
</body></html>
